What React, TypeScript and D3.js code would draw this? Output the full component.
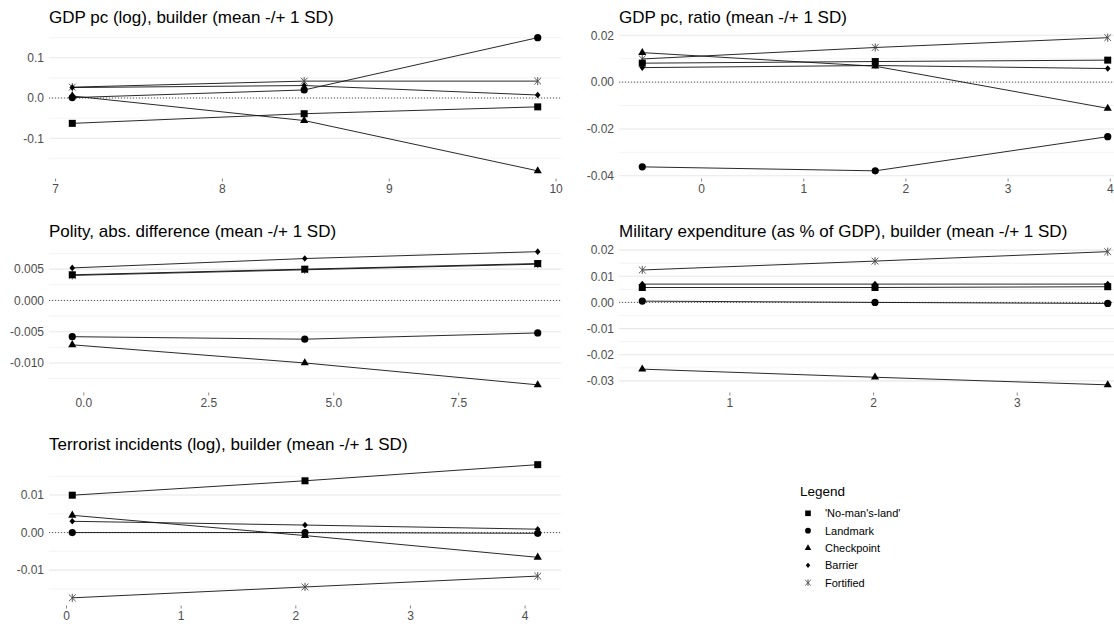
import React from "react";
import * as d3 from "d3";

// series (same order in every panel)
const seriesNames = ["'No-man's-land'", "Landmark", "Checkpoint", "Barrier", "Fortified"];
const seriesShapes = ["square", "circle", "triangle", "diamond", "asterisk"];
// points are stacked with Fortified at the bottom
const drawOrder = [4, 0, 1, 2, 3];

// GDP pc (log)
const gdpLogTitle = "GDP pc (log), builder (mean -/+ 1 SD)";
const gdpLogX = [7.1, 8.49, 9.89];
const gdpLogNoMans = [-0.063, -0.039, -0.022];
const gdpLogLandmark = [0.001, 0.02, 0.15];
const gdpLogCheckpoint = [0.005, -0.056, -0.181];
const gdpLogBarrier = [0.026, 0.031, 0.0075];
const gdpLogFortified = [0.027, 0.042, 0.042];
const gdpLogXTicks = [7, 8, 9, 10];
const gdpLogYTicks = [-0.1, 0, 0.1];

// GDP pc, ratio
const gdpRatioTitle = "GDP pc, ratio (mean -/+ 1 SD)";
const gdpRatioX = [-0.58, 1.7, 3.975];
const gdpRatioNoMans = [0.0081, 0.0088, 0.0094];
const gdpRatioLandmark = [-0.0362, -0.0379, -0.0233];
const gdpRatioCheckpoint = [0.0126, 0.0068, -0.0112];
const gdpRatioBarrier = [0.0062, 0.0071, 0.0058];
const gdpRatioFortified = [0.0099, 0.0148, 0.019];
const gdpRatioXTicks = [0, 1, 2, 3, 4];
const gdpRatioYTicks = [-0.04, -0.02, 0, 0.02];

// Polity
const polityTitle = "Polity, abs. difference (mean -/+ 1 SD)";
const polityX = [-0.23, 4.42, 9.08];
const polityNoMans = [0.0041, 0.005, 0.0059];
const polityLandmark = [-0.0058, -0.0062, -0.0052];
const polityCheckpoint = [-0.0071, -0.01, -0.0135];
const polityBarrier = [0.0052, 0.0067, 0.0078];
const polityFortified = [0.004, 0.0049, 0.0058];
const polityXTicks = [0, 2.5, 5, 7.5];
const polityYTicks = [-0.01, -0.005, 0, 0.005];

// Military expenditure
const milexTitle = "Military expenditure (as % of GDP), builder (mean -/+ 1 SD)";
const milexX = [0.39, 2.01, 3.63];
const milexNoMans = [0.0057, 0.0057, 0.006];
const milexLandmark = [0.0005, 0.0, -0.0004];
const milexCheckpoint = [-0.0255, -0.0286, -0.0315];
const milexBarrier = [0.007, 0.007, 0.007];
const milexFortified = [0.0124, 0.0158, 0.0194];
const milexXTicks = [1, 2, 3];
const milexYTicks = [-0.03, -0.02, -0.01, 0, 0.01, 0.02];

// Terrorist incidents
const terrorTitle = "Terrorist incidents (log), builder (mean -/+ 1 SD)";
const terrorX = [0.05, 2.08, 4.11];
const terrorNoMans = [0.00996, 0.0138, 0.0181];
const terrorLandmark = [0.0, 0.0, -0.0002];
const terrorCheckpoint = [0.0046, -0.0008, -0.0066];
const terrorBarrier = [0.003, 0.002, 0.0009];
const terrorFortified = [-0.0174, -0.0145, -0.0116];
const terrorXTicks = [0, 1, 2, 3, 4];
const terrorYTicks = [-0.01, 0, 0.01];

const W = 1114;
const H = 624;
const colLeft = [49, 619];
const rowTop = [31, 245, 458];
const panelW = 512;
const panelH = 146.5;
const font = "'Liberation Sans', Arial, Helvetica, sans-serif";

const loc = d3.formatLocale({ decimal: ".", thousands: ",", grouping: [3], currency: ["$", ""], minus: "-" });

const panels = [
  { title: gdpLogTitle, x: gdpLogX, ys: [gdpLogNoMans, gdpLogLandmark, gdpLogCheckpoint, gdpLogBarrier, gdpLogFortified], xTicks: gdpLogXTicks, yTicks: gdpLogYTicks, xFmt: "d", yFmt: ".1f", col: 0, row: 0 },
  { title: gdpRatioTitle, x: gdpRatioX, ys: [gdpRatioNoMans, gdpRatioLandmark, gdpRatioCheckpoint, gdpRatioBarrier, gdpRatioFortified], xTicks: gdpRatioXTicks, yTicks: gdpRatioYTicks, xFmt: "d", yFmt: ".2f", col: 1, row: 0 },
  { title: polityTitle, x: polityX, ys: [polityNoMans, polityLandmark, polityCheckpoint, polityBarrier, polityFortified], xTicks: polityXTicks, yTicks: polityYTicks, xFmt: ".1f", yFmt: ".3f", col: 0, row: 1 },
  { title: milexTitle, x: milexX, ys: [milexNoMans, milexLandmark, milexCheckpoint, milexBarrier, milexFortified], xTicks: milexXTicks, yTicks: milexYTicks, xFmt: "d", yFmt: ".2f", col: 1, row: 1 },
  { title: terrorTitle, x: terrorX, ys: [terrorNoMans, terrorLandmark, terrorCheckpoint, terrorBarrier, terrorFortified], xTicks: terrorXTicks, yTicks: terrorYTicks, xFmt: "d", yFmt: ".2f", col: 0, row: 2 },
];

// ggplot-like 5% expansion
const expand = (vals: number[]) => {
  const [lo, hi] = d3.extent(vals) as [number, number];
  const pad = (hi - lo) * 0.05;
  return [lo - pad, hi + pad];
};

const Marker = ({ shape, cx, cy, k = 1 }: { shape: string; cx: number; cy: number; k?: number }) => {
  if (shape === "square") {
    const s = 7 * k;
    return <rect x={cx - s / 2} y={cy - s / 2} width={s} height={s} fill="#000" />;
  }
  if (shape === "circle") return <circle cx={cx} cy={cy} r={3.6 * k} fill="#000" />;
  if (shape === "triangle") {
    const r = 4.7 * k;
    const pts = [
      [cx, cy - r],
      [cx + r * 0.866, cy + r * 0.5],
      [cx - r * 0.866, cy + r * 0.5],
    ];
    return <polygon points={pts.map((p) => p.join(",")).join(" ")} fill="#000" />;
  }
  if (shape === "diamond") {
    const r = 3.3 * k;
    return <polygon points={`${cx},${cy - r} ${cx + r * 0.85},${cy} ${cx},${cy + r} ${cx - r * 0.85},${cy}`} fill="#000" />;
  }
  const r = 3.4 * k;
  const d = `M${cx - r},${cy - r}L${cx + r},${cy + r}M${cx - r},${cy + r}L${cx + r},${cy - r}M${cx},${cy - r * 1.2}L${cx},${cy + r * 1.2}`;
  return <path d={d} stroke="#444" strokeWidth={0.9} fill="none" />;
};

const Panel = ({ p }: { p: (typeof panels)[number] }) => {
  const left = colLeft[p.col];
  const top = rowTop[p.row];
  const bottom = top + panelH;
  const x = d3.scaleLinear().domain(expand(p.x)).range([left, left + panelW]);
  const y = d3.scaleLinear().domain(expand(p.ys.flat().concat([0]))).range([bottom, top]);
  const [y0, y1] = y.domain();
  const step = p.yTicks[1] - p.yTicks[0];
  const minor = d3
    .range(p.yTicks[0] - step / 2, p.yTicks[p.yTicks.length - 1] + step, step)
    .filter((v) => v >= y0 && v <= y1);
  const line = d3
    .line<number>()
    .x((_, i) => x(p.x[i]))
    .y((d) => y(d));
  const fx = loc.format(p.xFmt);
  const fy = loc.format(p.yFmt);

  return (
    <g>
      <text x={left} y={top - 8.5} fontSize={17} fill="#000" fontFamily={font}>
        {p.title}
      </text>
      {minor.map((v, i) => (
        <line key={"m" + i} x1={left} x2={left + panelW} y1={y(v)} y2={y(v)} stroke="#efefef" strokeWidth={0.7} />
      ))}
      {p.yTicks.map((v, i) => (
        <line key={"g" + i} x1={left} x2={left + panelW} y1={y(v)} y2={y(v)} stroke="#e8e8e8" strokeWidth={1.1} />
      ))}
      <line x1={left} x2={left + panelW} y1={y(0)} y2={y(0)} stroke="#333" strokeWidth={0.8} strokeDasharray="1 2" />
      {p.yTicks.map((v, i) => (
        <text key={"yl" + i} x={left - 5} y={y(v)} dy="0.36em" textAnchor="end" fontSize={12} fill="#4d4d4d" fontFamily={font}>
          {fy(v)}
        </text>
      ))}
      {p.xTicks.map((v, i) => (
        <g key={"xl" + i}>
          <line x1={x(v)} x2={x(v)} y1={bottom + 1} y2={bottom + 4} stroke="#555" strokeWidth={0.7} />
          <text x={x(v)} y={bottom + 15} textAnchor="middle" fontSize={12} fill="#4d4d4d" fontFamily={font}>
            {fx(v)}
          </text>
        </g>
      ))}
      {drawOrder.map((i) => (
        <path key={"l" + i} d={line(p.ys[i]) || ""} fill="none" stroke="#111" strokeWidth={0.9} />
      ))}
      {drawOrder.map((i) =>
        p.ys[i].map((v, j) => <Marker key={"p" + i + "-" + j} shape={seriesShapes[i]} cx={x(p.x[j])} cy={y(v)} />)
      )}
    </g>
  );
};

const Legend = () => {
  const lx = 800;
  const ly = 496;
  const rowY = d3.scalePoint<number>().domain(d3.range(seriesNames.length)).range([513.3, 582.7]);
  return (
    <g fontFamily={font}>
      <text x={lx} y={ly} fontSize={13.5} fill="#000">
        Legend
      </text>
      {seriesNames.map((name, i) => (
        <g key={name}>
          <Marker shape={seriesShapes[i]} cx={808} cy={rowY(i) as number} k={0.8} />
          <text x={825} y={rowY(i) as number} dy="0.36em" fontSize={11} fill="#000">
            {name}
          </text>
        </g>
      ))}
    </g>
  );
};

export default function App() {
  return (
    <div style={{ position: "absolute", left: 0, top: 0, width: W, height: H, background: "#fff" }}>
      <svg width={W} height={H} style={{ display: "block" }}>
        <rect width={W} height={H} fill="#fff" />
        {panels.map((p, i) => (
          <Panel key={i} p={p} />
        ))}
        <Legend />
      </svg>
    </div>
  );
}
